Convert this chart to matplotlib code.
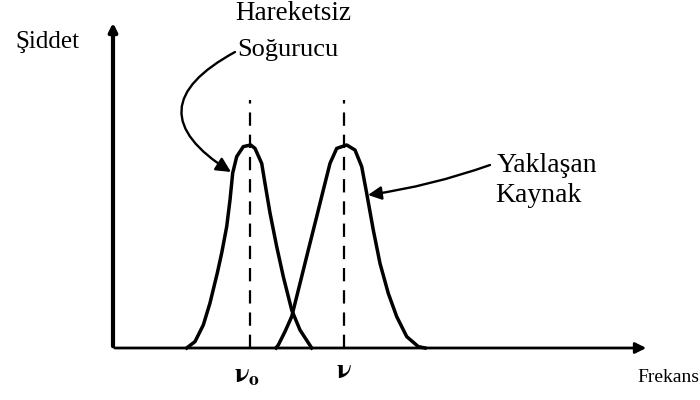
import numpy as np
import matplotlib.pyplot as plt

plt.rcParams['font.family'] = ['Liberation Serif', 'DejaVu Serif']
plt.rcParams['mathtext.fontset'] = 'stix'

# absorber (at rest) line profile
freq_absorber = [7.37, 8.2, 9.03, 9.7, 10.43, 10.87, 11.37, 11.7, 11.97, 12.37, 13.03, 13.77,
                 14.2, 14.87, 15.2, 15.7, 16.37, 17.03, 17.87, 18.7, 19.87]
int_absorber = [0.0, 0.32, 1.15, 2.25, 3.75, 4.75, 6.07, 7.4, 8.75, 9.57, 10.07, 10.15,
                9.98, 9.23, 8.23, 6.75, 5.07, 3.57, 1.9, 0.9, 0.0]

# approaching source line profile
freq_source = [16.3, 16.53, 17.2, 17.87, 18.7, 19.53, 20.37, 21.03, 21.7, 22.37, 23.37,
               24.2, 24.87, 25.37, 26.03, 26.7, 27.53, 28.37, 29.37, 30.53, 31.2]
int_source = [0.0, 0.15, 0.82, 1.57, 3.23, 4.9, 6.57, 7.9, 9.23, 9.98, 10.15,
              9.9, 9.07, 7.73, 5.9, 4.23, 2.73, 1.57, 0.57, 0.07, 0.0]

line_centers = [13.7, 23.1]
center_labels = [r'$\mathbf{\nu_o}$', r'$\mathbf{\nu}$']

fig = plt.figure(figsize=(7, 4), dpi=100)
ax = fig.add_axes([0, 0, 1, 1])
ax.set_xlim(-11.3, 58.7)
ax.set_ylim(-2.6, 17.4)
ax.axis('off')

# axes with arrow heads
ax.annotate('', xy=(0, 16.4), xytext=(0, -0.05),
            arrowprops=dict(arrowstyle='-|>', lw=3, color='black', mutation_scale=12))
ax.annotate('', xy=(53.6, 0), xytext=(-0.1, 0),
            arrowprops=dict(arrowstyle='-|>', lw=2, color='black', mutation_scale=16))

# dashed centre lines
for c in line_centers:
    ax.plot([c, c], [0, 12.4], color='black', lw=1.6, ls=(0, (6, 4)))

ax.plot(freq_absorber, int_absorber, color='black', lw=2.5, solid_joinstyle='round')
ax.plot(freq_source, int_source, color='black', lw=2.5, solid_joinstyle='round')

# labels under the axis
ax.text(line_centers[0] - 0.3, -1.4, center_labels[0], fontsize=20, ha='center', va='center')
ax.text(line_centers[1], -1.2, center_labels[1], fontsize=20, ha='center', va='center')

ax.text(-6.6, 15.3, 'Şiddet', fontsize=18, ha='center', va='center')
ax.text(52.4, -1.5, 'Frekans', fontsize=14, ha='left', va='center')
ax.text(18.0, 16.7, 'Hareketsiz', fontsize=19.5, ha='center', va='center')
ax.text(12.4, 14.9, 'Soğurucu', fontsize=19, ha='left', va='center')
ax.text(38.4, 9.15, 'Yaklaşan', fontsize=20, ha='left', va='center')
ax.text(38.2, 7.6, 'Kaynak', fontsize=20, ha='left', va='center')

# pointer arrows
ax.annotate('', xy=(11.8, 8.8), xytext=(12.2, 14.8),
            arrowprops=dict(arrowstyle='-|>', lw=1.7, color='black', mutation_scale=22,
                            connectionstyle='arc3,rad=0.85', shrinkA=0, shrinkB=0))
ax.annotate('', xy=(25.5, 7.65), xytext=(37.7, 9.15),
            arrowprops=dict(arrowstyle='-|>', lw=1.7, color='black', mutation_scale=20,
                            connectionstyle='arc3,rad=-0.05', shrinkA=0, shrinkB=0))

fig.savefig('out.png', dpi=100)
